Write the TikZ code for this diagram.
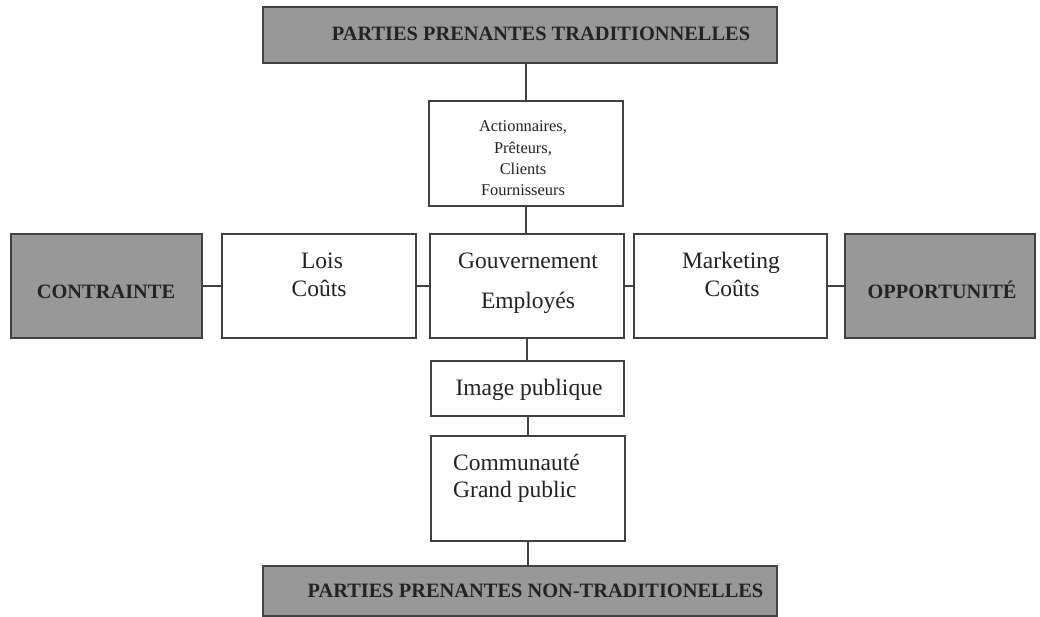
\documentclass[tikz,border=0pt]{standalone}
\usepackage{fontspec}
\setmainfont{Liberation Serif}
\definecolor{boxgray}{RGB}{152,152,152}
\definecolor{edge}{RGB}{65,65,65}
\definecolor{ink}{RGB}{35,35,35}
\begin{document}
\begin{tikzpicture}[x=1pt,y=-1pt,
  frame/.style={draw=edge,line width=1.8pt,inner sep=0pt},
  plain/.style={frame,fill=white},
  dark/.style={frame,fill=boxgray},
  link/.style={draw=edge,line width=1.8pt},
  big/.style={anchor=base,inner sep=0pt,text=ink,font=\fontsize{23.5}{26}\selectfont},
  small/.style={anchor=base,inner sep=0pt,text=ink,font=\fontsize{16.4}{20}\selectfont},
  head/.style={anchor=base,inner sep=0pt,text=ink,font=\fontsize{20.4}{24}\selectfont\bfseries}]
\useasboundingbox[fill=white] (0,0) rectangle (1040,616);

% boxes
\node[dark, minimum width=514pt, minimum height=56pt] (top) at (520,35) {};
\node[plain, minimum width=194pt, minimum height=105pt] (act) at (526,153.5) {};
\node[dark, minimum width=191pt, minimum height=104pt] (contr) at (106.5,286) {};
\node[plain, minimum width=194pt, minimum height=104pt] (lois) at (319,286) {};
\node[plain, minimum width=194pt, minimum height=104pt] (gouv) at (527,286) {};
\node[plain, minimum width=193pt, minimum height=104pt] (mark) at (730.5,286) {};
\node[dark, minimum width=190pt, minimum height=104pt] (opp) at (940,286) {};
\node[plain, minimum width=193pt, minimum height=55pt] (img) at (527.5,388.5) {};
\node[plain, minimum width=194pt, minimum height=105pt] (comm) at (528,488.5) {};
\node[dark, minimum width=514pt, minimum height=50pt] (bot) at (520,591) {};

% connectors
\draw[link] (act.north) -- (act.north |- top.south);
\draw[link] (act.south) -- (act.south |- gouv.north);
\draw[link] (contr.east) -- (lois.west);
\draw[link] (lois.east) -- (gouv.west);
\draw[link] (gouv.east) -- (mark.west);
\draw[link] (mark.east) -- (opp.west);
\draw[link] (gouv.south) -- (gouv.south |- img.north);
\draw[link] (img.south -| comm.north) -- (comm.north);
\draw[link] (comm.south) -- (comm.south |- bot.north);

% texts
\node[head] (topT) at (541,40) {PARTIES PRENANTES TRADITIONNELLES};
\node[head] (botT) at (535.5,597) {PARTIES PRENANTES NON-TRADITIONELLES};
\node[head] (contrT) at (106,298) {CONTRAINTE};
\node[head] (oppT) at (942,298) {OPPORTUNITÉ};

\node[small] (act1) at (523,131) {Actionnaires,};
\node[small] (act2) at (523,153) {Prêteurs,};
\node[small] (act3) at (523,174) {Clients};
\node[small] (act4) at (523,195) {Fournisseurs};

\node[big] (lois1) at (322,268) {Lois};
\node[big] (lois2) at (319,296) {Coûts};
\node[big] (gouv1) at (528,268) {Gouvernement};
\node[big] (gouv2) at (528,308) {Employés};
\node[big] (mark1) at (731,268) {Marketing};
\node[big] (mark2) at (732,296) {Coûts};
\node[big] (imgT) at (529,395) {Image publique};
\node[big, anchor=base west] (comm1) at (453,470) {Communauté};
\node[big, anchor=base west] (comm2) at (453,497) {Grand public};
\end{tikzpicture}
\end{document}
